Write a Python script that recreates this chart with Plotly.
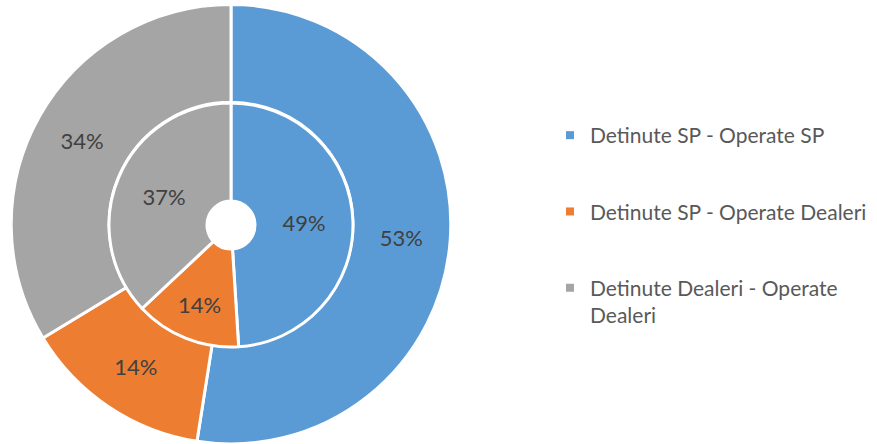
import plotly.graph_objects as go

labels = ["Detinute SP - Operate SP", "Detinute SP - Operate Dealeri", "Detinute Dealeri - Operate Dealeri"]
legend_labels = ["Detinute SP - Operate SP", "Detinute SP - Operate Dealeri", "Detinute Dealeri - Operate<br>Dealeri"]
outer_values = [53, 14, 34]
inner_values = [49, 14, 37]
colors = ["#5B9BD5", "#ED7D31", "#A5A5A5"]

W, H = 877, 444
cx, cy = 231, 225
R_out, R_in, R_hole = 220, 122, 24
FONT = "Lato"

fig = go.Figure()

fig.add_trace(go.Pie(
    labels=labels, values=outer_values, sort=False, direction="clockwise", rotation=0,
    hole=R_in / R_out,
    domain=dict(x=[(cx - R_out) / W, (cx + R_out) / W], y=[0, 0.99]),
    marker=dict(colors=colors, line=dict(color="white", width=3)),
    texttemplate="%{value}%", textposition="inside", insidetextorientation="horizontal",
    textfont=dict(family=FONT, size=22, color="#404040"),
    showlegend=False, hoverinfo="label+value",
))

fig.add_trace(go.Pie(
    labels=labels, values=inner_values, sort=False, direction="clockwise", rotation=0,
    hole=R_hole / R_in,
    domain=dict(x=[(cx - R_in) / W, (cx + R_in) / W],
                y=[(H - cy - R_in) / H, (H - cy + R_in) / H]),
    marker=dict(colors=colors, line=dict(color="white", width=3)),
    texttemplate="%{value}%", textposition="inside", insidetextorientation="horizontal",
    textfont=dict(family=FONT, size=22, color="#404040"),
    showlegend=False, hoverinfo="label+value",
))

for i, (lab, col) in enumerate(zip(legend_labels, colors)):
    fig.add_trace(go.Scatter(
        x=[None], y=[None], mode="markers", name=lab,
        marker=dict(symbol="square", size=8, color=col),
        legendgroup=f"g{i}", showlegend=True,
    ))

fig.update_layout(
    width=W, height=H,
    margin=dict(l=0, r=0, t=0, b=0),
    paper_bgcolor="white", plot_bgcolor="white",
    xaxis=dict(visible=False), yaxis=dict(visible=False),
    legend=dict(
        x=550 / W, y=1 - 115 / H, xanchor="left", yanchor="top",
        font=dict(family=FONT, size=21, color="#595959"),
        tracegroupgap=46, valign="top", bgcolor="rgba(0,0,0,0)",
    ),
    font=dict(family=FONT),
)

fig.write_html("out.html", config={"displayModeBar": False},
               post_script="document.body.style.margin='0';")
